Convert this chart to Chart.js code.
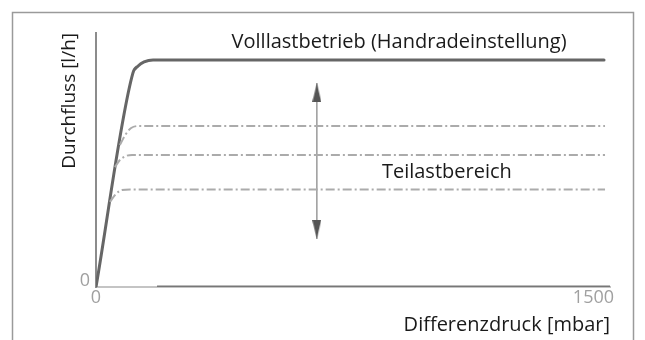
<!DOCTYPE html>
<html>
<head>
<meta charset="utf-8">
<script src="https://cdn.jsdelivr.net/npm/chart.js@4/dist/chart.umd.min.js"></script>
<style>
  html, body { margin: 0; padding: 0; background: #fff; }
  #c { display: block; }
</style>
</head>
<body>
<canvas id="c" width="645" height="340"></canvas>
<script>
// ---- data ----
const xTickLabels = [0, 1500];
const yTickLabels = [0];
const fullLoadX = [0, 111, 127, 145, 172, 1532];
const fullLoadY = [0, 84.1, 87.0, 88.6, 89.4, 89.4];
const partLoad1X = [72, 88, 106, 133, 1535];
const partLoad1Y = [55.9, 59.8, 62.6, 63.4, 63.4];
const partLoad2X = [57, 72, 91, 109, 1535];
const partLoad2Y = [47.2, 50.0, 51.6, 52.0, 52.0];
const partLoad3X = [42, 60, 78, 103, 1535];
const partLoad3Y = [33.5, 36.6, 38.2, 38.4, 38.4];
const baseLineX = [184, 1550];
const baseLineY = [0, 0];
const arrowX = [666, 666];
const arrowY = [18.9, 80.3];
const fullLoadLabel = 'Volllastbetrieb (Handradeinstellung)';
const partLoadLabel = 'Teilastbereich';
const xTitle = 'Differenzdruck [mbar]';
const yTitle = 'Durchfluss [l/h]';

const pts = (xs, ys) => xs.map((x, i) => ({ x: x, y: ys[i] }));

// arrow head image
function arrowHead() {
  const w = 9, h = 38;
  const cv = document.createElement('canvas');
  cv.width = w; cv.height = h;
  const g = cv.getContext('2d');
  g.fillStyle = '#555';
  g.beginPath();
  g.moveTo(w / 2, h / 2);
  g.lineTo(w, h);
  g.lineTo(0, h);
  g.closePath();
  g.fill();
  return cv;
}
const head = arrowHead();

const FONT = '"Open Sans", "Noto Sans", sans-serif';

const framePlugin = {
  id: 'frame',
  beforeDraw(chart) {
    const ctx = chart.ctx;
    ctx.save();
    ctx.fillStyle = '#fff';
    ctx.fillRect(0, 0, chart.width, chart.height);
    ctx.strokeStyle = '#9a9a9a';
    ctx.lineWidth = 1.5;
    ctx.strokeRect(12.5, 12.5, 621, 340);
    ctx.restore();
  }
};

const labelPlugin = {
  id: 'labels',
  afterDatasetsDraw(chart, args, opts) {
    const ctx = chart.ctx;
    const xs = chart.scales.x, ys = chart.scales.y;
    ctx.save();
    ctx.fillStyle = '#1a1a1a';
    ctx.font = '20px ' + FONT;
    ctx.textAlign = 'center';
    ctx.textBaseline = 'middle';
    opts.items.forEach(it => {
      ctx.fillText(it.text, xs.getPixelForValue(it.x), ys.getPixelForValue(it.y));
    });
    ctx.restore();
  }
};

const dashStyle = {
  borderColor: '#ababab',
  borderWidth: 2,
  borderDash: [9, 3, 2, 3],
  pointRadius: 0,
  fill: false,
  cubicInterpolationMode: 'monotone'
};

new Chart(document.getElementById('c'), {
  type: 'line',
  data: {
    datasets: [
      { label: 'base', data: pts(baseLineX, baseLineY), borderColor: '#777', borderWidth: 3, pointRadius: 0 },
      Object.assign({ label: 'p1', data: pts(partLoad1X, partLoad1Y) }, dashStyle),
      Object.assign({ label: 'p2', data: pts(partLoad2X, partLoad2Y) }, dashStyle),
      Object.assign({ label: 'p3', data: pts(partLoad3X, partLoad3Y) }, dashStyle),
      { label: 'full', data: pts(fullLoadX, fullLoadY), borderColor: '#666', borderWidth: 3,
        pointRadius: 0, cubicInterpolationMode: 'monotone', borderCapStyle: 'round' },
      { label: 'arrow', data: pts(arrowX, arrowY), borderColor: '#9a9a9a', borderWidth: 1.5,
        pointStyle: head, pointRadius: 5, pointRotation: [180, 0] }
    ]
  },
  options: {
    responsive: false,
    animation: false,
    layout: { padding: { left: 0, right: 35, top: 33, bottom: 0 } },
    plugins: {
      legend: { display: false },
      tooltip: { enabled: false },
      labels: {
        items: [
          { text: fullLoadLabel, x: 914, y: 96.5 },
          { text: partLoadLabel, x: 1058, y: 45.3 }
        ]
      }
    },
    scales: {
      x: {
        type: 'linear', min: 0, max: 1550,
        grid: { display: false, drawTicks: false },
        border: { color: '#c4c4c4', width: 2 },
        afterBuildTicks(s) { s.ticks = xTickLabels.map(v => ({ value: v })); },
        afterFit(s) { s.height = 53; },
        ticks: { color: '#a0a0a0', font: { family: FONT, size: 18 }, padding: 0, maxRotation: 0,
          callback: v => String(v) },
        title: { display: true, text: xTitle, align: 'end', color: '#1a1a1a',
          font: { family: FONT, size: 20 }, padding: { top: 0, bottom: 3 } }
      },
      y: {
        type: 'linear', min: 0, max: 100,
        grid: { display: false, drawTicks: false },
        border: { color: '#8c8c8c', width: 2 },
        afterBuildTicks(s) { s.ticks = yTickLabels.map(v => ({ value: v })); },
        afterFit(s) { s.width = 96; },
        ticks: { color: '#a0a0a0', font: { family: FONT, size: 18 }, padding: 6, labelOffset: -6,
          callback: v => String(v) },
        title: { display: true, text: yTitle, align: 'end', color: '#1a1a1a',
          font: { family: FONT, size: 19 }, padding: { top: 58, bottom: 0 } }
      }
    }
  },
  plugins: [framePlugin, labelPlugin]
});
</script>
</body>
</html>
